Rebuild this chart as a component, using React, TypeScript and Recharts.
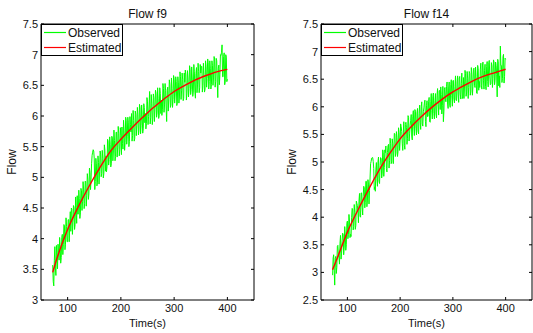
import React from "react";
import { LineChart, Line, XAxis, YAxis, ReferenceArea, Legend } from "recharts";

// the observed flow is sampled once a second from 72 s to 400 s;
// values are kept as two typed lists: even seconds (72, 74, ...) and odd seconds (73, 75, ...)
const evenTime = Array.from({ length: 165 }, (_, i) => 72 + i * 2);
const oddTime = Array.from({ length: 164 }, (_, i) => 73 + i * 2);
const estTime = [72, 80, 100, 120, 140, 160, 180, 200, 220, 240, 260, 280, 300, 320, 340, 360, 380, 400];

const xTicks = [100, 200, 300, 400];
const f9YTicks = [3, 3.5, 4, 4.5, 5, 5.5, 6, 6.5, 7, 7.5];
const f14YTicks = [2.5, 3, 3.5, 4, 4.5, 5, 5.5, 6, 6.5, 7, 7.5];

const f9ObservedEven = [
  3.57, 3.23, 3.87, 3.40, 3.73, 3.91, 3.65, 3.90, 3.69, 4.07,
  3.91, 4.21, 3.91, 4.20, 3.95, 4.31, 4.24, 4.12, 4.48, 4.26,
  4.51, 4.23, 4.51, 4.70, 4.40, 4.65, 4.42, 4.78, 4.61, 4.81,
  4.57, 4.93, 4.70, 4.96, 4.73, 5.08, 4.96, 5.36, 5.45, 5.30,
  4.93, 5.22, 4.91, 5.24, 5.09, 5.38, 5.06, 5.31, 5.06, 5.44,
  5.35, 5.18, 5.59, 5.29, 5.54, 5.22, 5.64, 5.43, 5.60, 5.34,
  5.74, 5.48, 5.72, 5.45, 5.68, 5.82, 5.46, 5.77, 5.57, 5.93,
  5.67, 5.90, 5.58, 5.86, 6.04, 5.68, 5.93, 5.63, 6.03, 5.84,
  6.02, 5.76, 6.14, 5.85, 6.03, 5.79, 6.14, 6.04, 5.88, 6.23,
  5.99, 6.40, 5.98, 6.21, 5.95, 6.30, 6.11, 6.37, 6.05, 6.28,
  6.01, 6.37, 6.26, 6.10, 6.45, 6.18, 6.42, 5.91, 6.47, 6.28,
  6.51, 6.18, 6.45, 6.27, 6.60, 6.36, 6.56, 6.21, 6.54, 6.31,
  6.64, 6.41, 6.60, 6.29, 6.55, 6.67, 6.36, 6.62, 6.45, 6.76,
  6.43, 6.62, 6.39, 6.72, 6.29, 6.79, 6.52, 6.73, 6.46, 6.70,
  6.81, 6.50, 6.68, 6.43, 6.81, 6.61, 6.87, 6.56, 6.78, 6.51,
  6.82, 6.62, 6.93, 6.56, 6.90, 6.30, 6.83, 6.68, 6.99, 7.16,
  6.64, 7.03, 6.57, 6.96, 6.60,
];
const f9ObservedOdd = [
  3.30, 3.64, 3.52, 3.89, 3.51, 3.77, 4.02, 3.60, 4.02, 3.74,
  4.23, 3.82, 4.34, 3.95, 4.31, 3.95, 4.44, 4.50, 4.07, 4.54,
  4.15, 4.68, 4.25, 4.40, 4.79, 4.33, 4.82, 4.46, 4.93, 4.49,
  4.94, 4.53, 5.06, 4.64, 5.15, 4.80, 5.23, 5.41, 5.43, 4.80,
  5.31, 4.86, 5.35, 4.89, 5.43, 5.01, 5.44, 4.99, 5.53, 5.10,
  5.09, 5.62, 5.20, 5.66, 5.17, 5.67, 5.27, 5.77, 5.27, 5.73,
  5.33, 5.83, 5.35, 5.81, 5.37, 5.55, 5.93, 5.44, 5.98, 5.54,
  5.98, 5.50, 5.99, 5.74, 5.59, 6.09, 5.59, 6.08, 5.68, 6.14,
  5.69, 6.19, 5.71, 6.18, 5.72, 6.20, 5.89, 5.79, 6.30, 5.86,
  6.18, 5.87, 6.35, 5.86, 6.36, 5.91, 6.42, 5.98, 6.46, 5.96,
  6.46, 6.04, 6.01, 6.53, 6.06, 6.53, 6.13, 6.42, 6.08, 6.59,
  6.14, 6.62, 6.14, 6.66, 6.21, 6.64, 6.17, 6.64, 6.21, 6.72,
  6.27, 6.70, 6.25, 6.70, 6.75, 6.26, 6.74, 6.31, 6.82, 6.35,
  6.80, 6.32, 6.84, 6.39, 6.69, 6.38, 6.86, 6.38, 6.84, 6.81,
  6.39, 6.86, 6.39, 6.90, 6.47, 6.93, 6.44, 6.90, 6.44, 6.90,
  6.50, 6.97, 6.47, 6.94, 6.54, 6.78, 6.51, 7.00, 7.04, 6.64,
  6.97, 6.51, 7.00, 6.56,
];
const f9Estimated = [3.45, 3.68, 4.15, 4.52, 4.85, 5.15, 5.42, 5.62, 5.8, 5.97, 6.13, 6.27, 6.4, 6.5, 6.59, 6.66, 6.72, 6.76];

const f14ObservedEven = [
  2.95, 3.32, 2.77, 3.29, 3.09, 3.49, 3.28, 3.53, 3.24, 3.57,
  3.69, 3.46, 3.68, 3.50, 3.93, 3.69, 3.93, 3.69, 3.99, 4.15,
  3.83, 4.09, 3.85, 4.25, 4.08, 4.29, 4.02, 4.44, 4.18, 4.38,
  4.53, 4.27, 4.65, 4.31, 4.60, 4.48, 4.97, 5.07, 5.08, 4.88,
  4.55, 4.87, 4.70, 5.00, 4.65, 4.94, 5.06, 4.80, 5.17, 4.90,
  5.17, 4.88, 5.17, 5.32, 5.03, 5.34, 5.00, 5.33, 5.20, 5.51,
  5.16, 5.44, 5.19, 5.53, 5.38, 5.64, 5.34, 5.54, 5.30, 5.68,
  5.63, 5.43, 5.81, 5.51, 5.75, 5.47, 5.83, 5.64, 5.95, 5.61,
  5.89, 5.56, 5.88, 5.72, 6.00, 5.69, 5.91, 6.07, 5.73, 6.02,
  5.82, 6.10, 5.73, 6.09, 5.93, 6.18, 5.88, 6.11, 5.87, 6.21,
  6.04, 6.29, 5.95, 6.22, 6.02, 5.73, 6.32, 6.10, 6.37, 6.05,
  6.34, 6.03, 6.40, 6.20, 6.47, 6.14, 6.37, 6.12, 6.45, 6.23,
  6.52, 6.23, 6.42, 6.15, 6.53, 6.34, 6.60, 6.25, 6.52, 6.35,
  6.60, 6.27, 6.58, 6.37, 6.70, 6.35, 6.55, 6.24, 6.69, 6.46,
  6.67, 6.38, 6.74, 6.47, 6.66, 6.37, 6.73, 6.46, 6.80, 6.54,
  6.42, 6.74, 6.51, 6.81, 6.48, 6.75, 6.18, 6.82, 6.56, 7.10,
  6.75, 6.51, 6.95, 6.55, 6.86,
];
const f14ObservedOdd = [
  3.26, 3.03, 3.25, 2.98, 3.47, 3.30, 3.15, 3.67, 3.35, 3.71,
  3.32, 3.83, 3.40, 3.89, 3.61, 4.05, 3.63, 3.65, 4.16, 3.77,
  4.23, 3.78, 4.29, 4.21, 3.90, 4.43, 4.00, 4.44, 4.04, 4.56,
  4.17, 4.65, 4.19, 4.68, 4.24, 4.71, 5.01, 5.08, 5.01, 4.50,
  4.47, 4.99, 4.56, 5.09, 4.61, 5.08, 4.71, 5.22, 4.74, 5.22,
  5.29, 4.82, 5.29, 4.89, 5.43, 4.97, 5.42, 4.97, 5.52, 5.10,
  5.55, 5.10, 5.62, 5.21, 5.69, 5.55, 5.21, 5.73, 5.23, 5.72,
  5.32, 5.84, 5.38, 5.67, 5.86, 5.40, 5.93, 5.48, 5.92, 5.49,
  5.97, 5.51, 6.03, 5.59, 6.09, 5.65, 5.98, 6.12, 5.64, 6.11,
  5.83, 6.17, 5.72, 6.24, 5.78, 6.25, 5.78, 6.24, 5.80, 6.33,
  5.85, 6.30, 6.36, 5.87, 6.37, 5.92, 6.35, 6.09, 6.45, 5.97,
  6.45, 5.99, 6.49, 6.01, 6.48, 6.07, 6.56, 6.11, 6.56, 6.08,
  6.55, 6.14, 6.61, 6.18, 6.15, 6.66, 6.19, 6.64, 6.15, 6.64,
  6.21, 6.71, 6.21, 6.68, 6.39, 6.72, 6.25, 6.75, 6.30, 6.35,
  6.79, 6.32, 6.81, 6.32, 6.77, 6.31, 6.82, 6.36, 6.84, 6.40,
  6.80, 6.35, 6.85, 6.40, 6.81, 6.58, 6.86, 6.38, 6.35, 6.75,
  6.44, 6.91, 6.43, 6.88,
];
const f14Estimated = [3.05, 3.24, 3.73, 4.13, 4.5, 4.85, 5.15, 5.42, 5.63, 5.82, 5.99, 6.14, 6.27, 6.38, 6.48, 6.56, 6.62, 6.68];

const FONT = '"Liberation Sans", Arial, Helvetica, sans-serif';
const INK = "#111";
const OBS_COLOR = "#00ff00";
const EST_COLOR = "#ff0000";
const TICK_LEN = 3;
const HEIGHT = 333;
const PLOT_TOP = 24;
const Y_AXIS_W = 30;
const X_AXIS_H = 30;
const BOTTOM = 3;

const legendItems = [
  { name: "Observed", color: OBS_COLOR },
  { name: "Estimated", color: EST_COLOR },
];

function mergeSamples(even: number[], odd: number[]) {
  const rows = [
    ...even.map((v, i) => ({ t: evenTime[i], v })),
    ...odd.map((v, i) => ({ t: oddTime[i], v })),
  ];
  return rows.sort((a, b) => a.t - b.t);
}

interface PanelProps {
  title: string;
  observedEven: number[];
  observedOdd: number[];
  estimated: number[];
  yDomain: [number, number];
  yTicks: number[];
  left: number;
  width: number;
  marginLeft: number;
  marginRight: number;
}

const LegendBox = () => (
  <div
    style={{
      border: "1px solid #000",
      background: "#fff",
      width: 80,
      fontFamily: FONT,
      fontSize: 12,
      color: INK,
      textAlign: "left",
    }}
  >
    {legendItems.map((item) => (
      <div key={item.name} style={{ display: "flex", alignItems: "center", height: 15 }}>
        <svg width={26} height={15}>
          <line x1={2} x2={24} y1={7.5} y2={7.5} stroke={item.color} strokeWidth={1.2} />
        </svg>
        <span>{item.name}</span>
      </div>
    ))}
  </div>
);

function Panel({
  title,
  observedEven,
  observedOdd,
  estimated,
  yDomain,
  yTicks,
  left,
  width,
  marginLeft,
  marginRight,
}: PanelProps) {
  const plotL = marginLeft + Y_AXIS_W;
  const plotR = width - marginRight;
  const plotB = HEIGHT - BOTTOM - X_AXIS_H;

  const obsData = mergeSamples(observedEven, observedOdd);
  const estData = estimated.map((v, i) => ({ t: estTime[i], v }));

  const renderYTick = (p: any) => {
    const y = p.payload.coordinate;
    return (
      <g>
        <line x1={plotL} x2={plotL + TICK_LEN} y1={y} y2={y} stroke="#000" />
        <line x1={plotR - TICK_LEN} x2={plotR} y1={y} y2={y} stroke="#000" />
        <text x={plotL - 3} y={y} dy="0.36em" textAnchor="end" fontSize={11} fontFamily={FONT} fill={INK}>
          {p.payload.value}
        </text>
      </g>
    );
  };

  const renderXTick = (p: any) => {
    const x = p.payload.coordinate;
    return (
      <g>
        <line x1={x} x2={x} y1={plotB} y2={plotB - TICK_LEN} stroke="#000" />
        <line x1={x} x2={x} y1={PLOT_TOP} y2={PLOT_TOP + TICK_LEN} stroke="#000" />
        <text x={x} y={plotB + 4} dy="0.75em" textAnchor="middle" fontSize={11} fontFamily={FONT} fill={INK}>
          {p.payload.value}
        </text>
      </g>
    );
  };

  const yLabel = () => {
    const cx = plotL - 29;
    const cy = (PLOT_TOP + plotB) / 2;
    return (
      <text
        x={cx}
        y={cy}
        transform={`rotate(-90 ${cx} ${cy})`}
        textAnchor="middle"
        dominantBaseline="central"
        fontSize={12}
        fontFamily={FONT}
        fill={INK}
      >
        Flow
      </text>
    );
  };

  return (
    <div style={{ position: "absolute", left, top: 0 }}>
      <LineChart
        width={width}
        height={HEIGHT}
        margin={{ top: PLOT_TOP, right: marginRight, bottom: BOTTOM, left: marginLeft }}
      >
        <XAxis
          type="number"
          dataKey="t"
          domain={[50, 450]}
          ticks={xTicks}
          allowDataOverflow
          height={X_AXIS_H}
          axisLine={false}
          tickLine={false}
          tick={renderXTick}
          label={{ value: "Time(s)", position: "insideBottom", offset: 3, fontSize: 11, fontFamily: FONT, fill: INK }}
        />
        <YAxis
          type="number"
          domain={yDomain}
          ticks={yTicks}
          allowDataOverflow
          width={Y_AXIS_W}
          axisLine={false}
          tickLine={false}
          tick={renderYTick}
          label={{ content: yLabel }}
        />
        <Line
          data={obsData}
          dataKey="v"
          name="Observed"
          type="linear"
          stroke={OBS_COLOR}
          strokeWidth={1}
          dot={false}
          isAnimationActive={false}
        />
        <Line
          data={estData}
          dataKey="v"
          name="Estimated"
          type="monotone"
          stroke={EST_COLOR}
          strokeWidth={1.4}
          dot={false}
          isAnimationActive={false}
        />
        <ReferenceArea
          x1={50}
          x2={450}
          y1={yDomain[0]}
          y2={yDomain[1]}
          fill="none"
          stroke="#000"
          strokeWidth={1}
          label={{ value: title, position: "top", offset: 6, fontSize: 12, fontFamily: FONT, fill: INK }}
        />
        <Legend
          layout="horizontal"
          verticalAlign="middle"
          align="center"
          content={LegendBox}
          wrapperStyle={{ left: plotL, top: PLOT_TOP, width: 82, height: 32 }}
        />
      </LineChart>
    </div>
  );
}

export default function App() {
  return (
    <div style={{ position: "absolute", left: 0, top: 0, width: 533, height: 333, background: "#fff" }}>
      <Panel
        title="Flow f9"
        observedEven={f9ObservedEven}
        observedOdd={f9ObservedOdd}
        estimated={f9Estimated}
        yDomain={[3, 7.5]}
        yTicks={f9YTicks}
        left={0}
        width={267}
        marginLeft={11}
        marginRight={13}
      />
      <Panel
        title="Flow f14"
        observedEven={f14ObservedEven}
        observedOdd={f14ObservedOdd}
        estimated={f14Estimated}
        yDomain={[2.5, 7.5]}
        yTicks={f14YTicks}
        left={267}
        width={266}
        marginLeft={24}
        marginRight={1}
      />
    </div>
  );
}
